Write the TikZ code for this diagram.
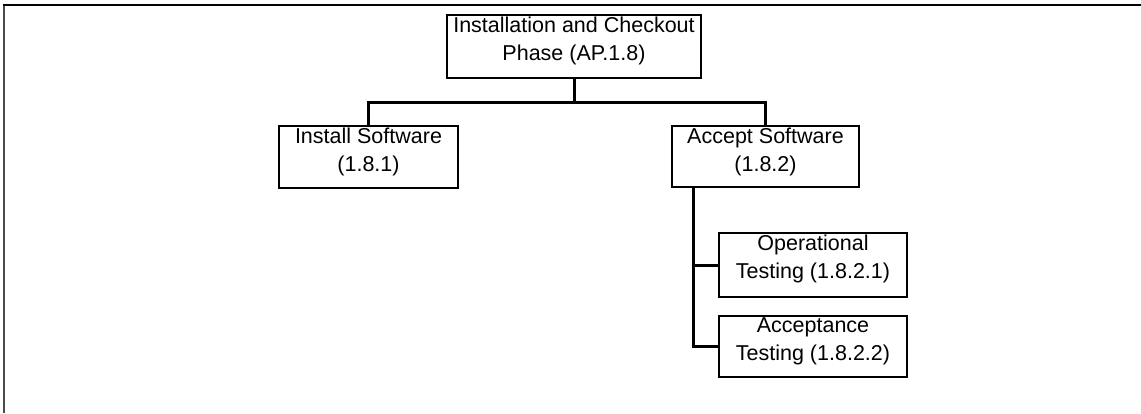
\documentclass[tikz,border=0pt]{standalone}
\usepackage{fontspec}
\setmainfont{Liberation Sans}
\begin{document}
\begin{tikzpicture}[x=1pt,y=-1pt,
	wbs/.style={draw=black,line width=2.5pt,rectangle,inner sep=0pt},
	wbstext/.style={anchor=north,align=center,inner sep=3pt,font=\fontsize{21.5}{27.5}\selectfont},
	link/.style={draw=black,line width=3pt}]
	\useasboundingbox (0,0) rectangle (1141,413);
	\fill[white] (0,0) rectangle (1141,413);
	\draw[line width=2pt][black!70](4,413)--(4,5);
	\draw[line width=2pt][black](3,5)--(1141,5);
	
	\node[wbs,minimum width=254,minimum height=63,label={[wbstext]north:Installation and Checkout\\Phase (AP.1.8)}] (phase) at (574,46.5) {};
	\node[wbs,minimum width=179,minimum height=62,label={[wbstext]north:Install Software\\(1.8.1)}] (install) at (368.5,157) {};
	\node[wbs,minimum width=187,minimum height=61,label={[wbstext]north:Accept Software\\(1.8.2)}] (accept) at (765.5,156.5) {};
	\node[wbs,minimum width=188,minimum height=64,label={[wbstext]north:Operational\\Testing (1.8.2.1)}] (operational) at (813,265) {};
	\node[wbs,minimum width=188,minimum height=61,label={[wbstext]north:Acceptance\\Testing (1.8.2.2)}] (acceptance) at (813,346.5) {};
	
	\coordinate (bus) at (574,102);
	\coordinate (spine) at (693,187);
	
	\draw[link](phase.south)--(bus);
	\draw[link](install.north)|-(bus)-|(accept.north);
	\draw[link](spine)|-(acceptance.west);
	\draw[link](spine|-operational.west)--(operational.west);
	
\end{tikzpicture}
\end{document}
